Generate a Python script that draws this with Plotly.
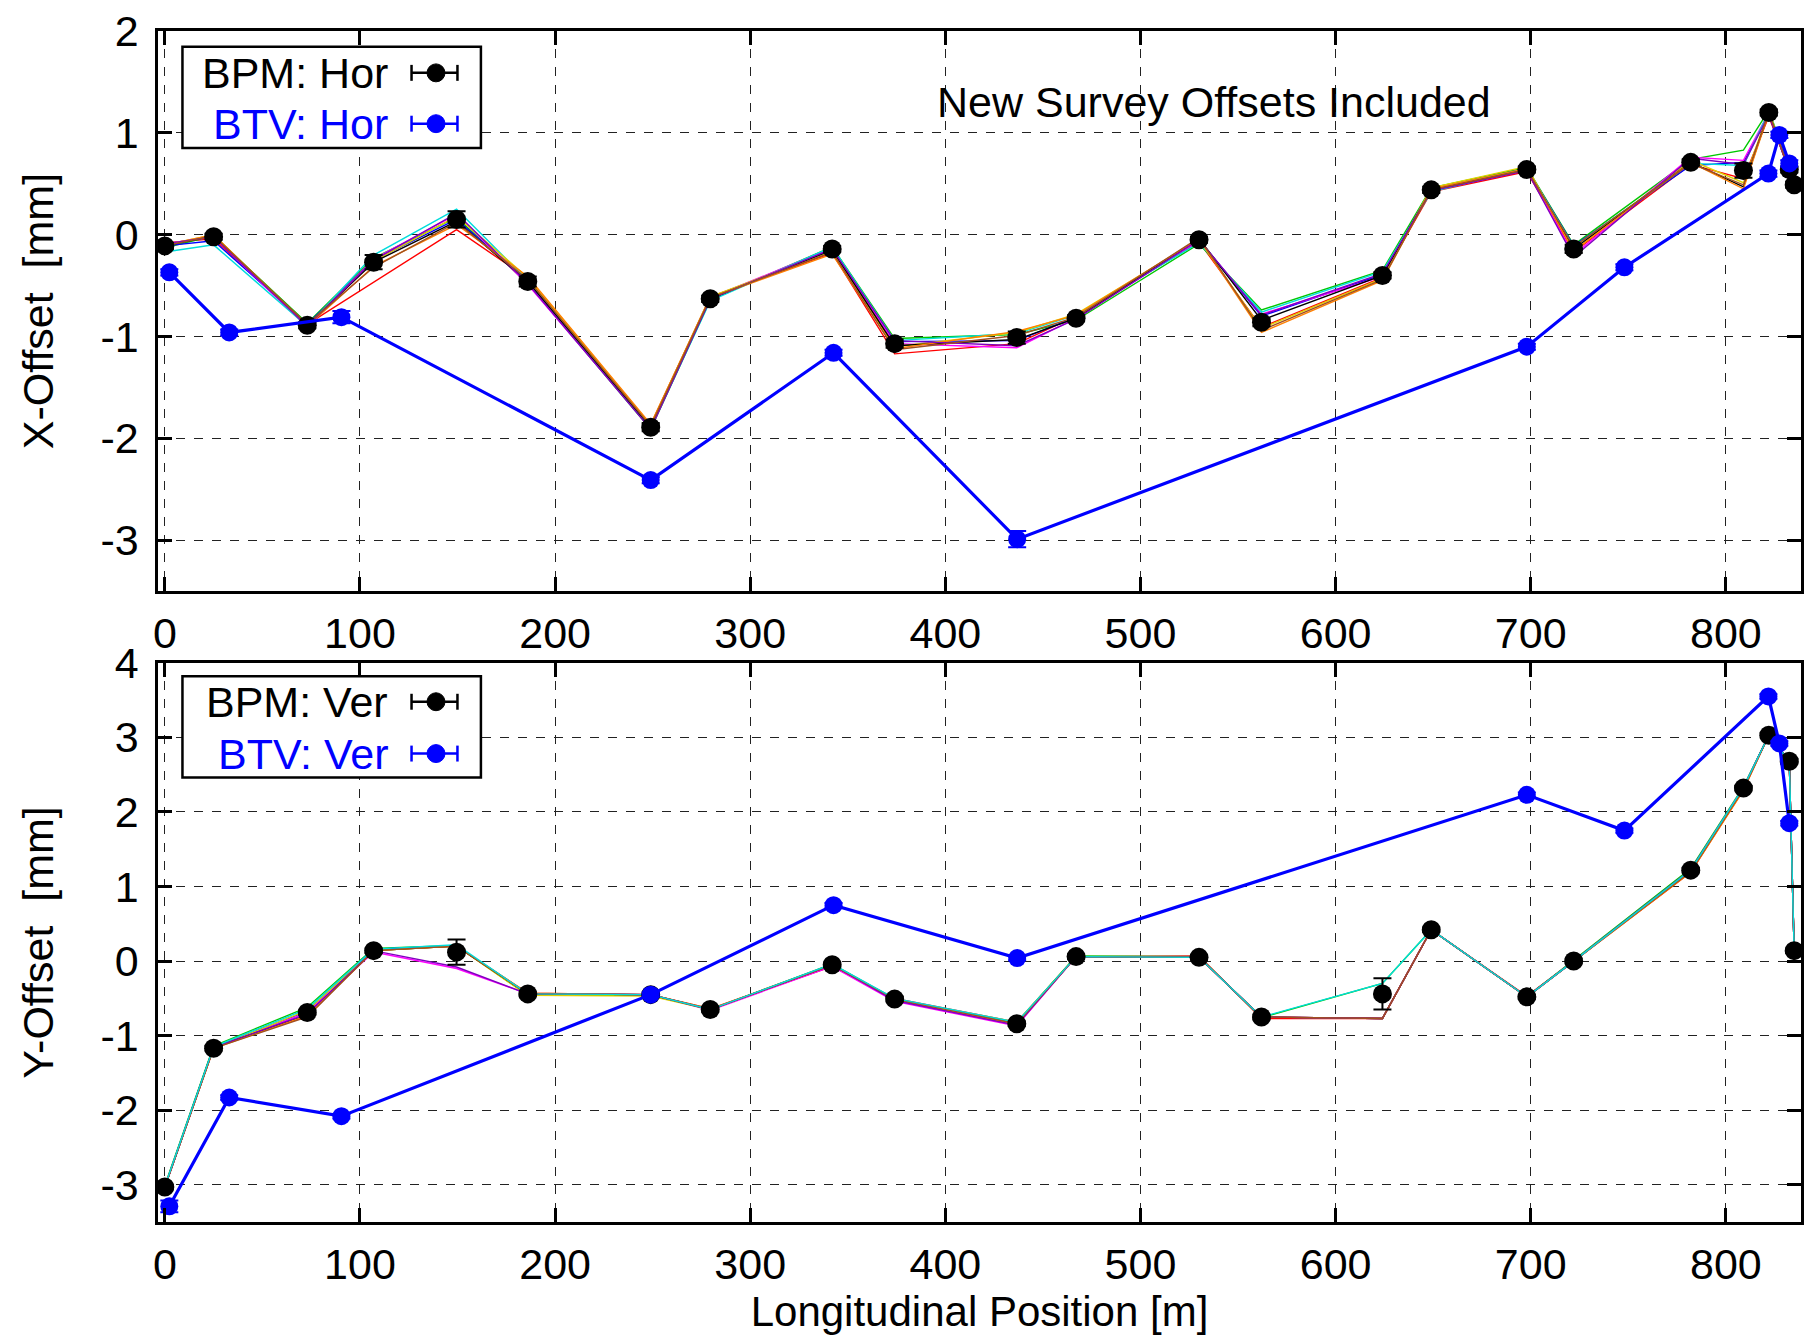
import plotly.graph_objects as go

# ---------------- data ----------------
bpm_pos = [0, 25, 73, 107, 149.5, 186, 249, 279.5, 342, 374, 436.6, 467, 530,
           562, 624, 649, 698, 722, 782, 809, 822, 832.5, 835]
bpm_hor = [-0.11, -0.02, -0.89, -0.27, 0.15, -0.46, -1.89, -0.63, -0.14, -1.07,
           -1.01, -0.82, -0.05, -0.86, -0.40, 0.44, 0.64, -0.14, 0.71, 0.63,
           1.20, 0.64, 0.49]
bpm_hor_err = [0.03, 0.03, 0.03, 0.07, 0.08, 0.05, 0.04, 0.03, 0.03, 0.04, 0.06,
               0.03, 0.03, 0.04, 0.03, 0.03, 0.03, 0.04, 0.03, 0.07, 0.03, 0.03, 0.03]
bpm_ver = [-3.03, -1.17, -0.69, 0.14, 0.12, -0.44, -0.45, -0.65, -0.05, -0.51,
           -0.84, 0.06, 0.05, -0.75, -0.44, 0.42, -0.48, 0.00, 1.22, 2.32,
           3.03, 2.68, 0.14]
bpm_ver_err = [0.03, 0.03, 0.03, 0.03, 0.17, 0.03, 0.03, 0.03, 0.03, 0.03, 0.03,
               0.03, 0.03, 0.03, 0.21, 0.03, 0.03, 0.03, 0.03, 0.03, 0.03, 0.03, 0.03]

btv_pos = [2.3, 33, 90.5, 249, 342.7, 436.8, 698, 748, 821.8, 827.4, 832.5]
btv_hor = [-0.37, -0.96, -0.81, -2.41, -1.16, -2.99, -1.10, -0.32, 0.60, 0.98, 0.70]
btv_hor_err = [0.03, 0.03, 0.06, 0.03, 0.03, 0.08, 0.03, 0.03, 0.03, 0.03, 0.03]
btv_ver = [-3.29, -1.83, -2.08, -0.45, 0.75, 0.04, 2.23, 1.75, 3.55, 2.92, 1.85]
btv_ver_err = [0.08, 0.03, 0.03, 0.03, 0.03, 0.03, 0.03, 0.03, 0.03, 0.03, 0.03]

# individual BPM measurements (thin coloured lines), as offsets from the mean
thin_colors = ["#ff0000", "#00c800", "#0000ff", "#ff00ff", "#00dcdc",
               "#e0d000", "#000000", "#ff8000", "#8000c0", "#a05020"]
hor_dev_red     = [0.03, -0.02, 0.01, -0.20, -0.10, 0.03, 0.02, 0.02, -0.04, -0.10, -0.06, 0.02, -0.02, -0.05, -0.02, -0.02, -0.02, -0.03, -0.02, -0.08, -0.04, 0.00, 0.00]
hor_dev_green   = [-0.02, 0.01, 0.02, 0.04, 0.02, -0.02, -0.02, -0.01, 0.02, 0.05, 0.03, -0.02, -0.04, 0.12, 0.05, 0.02, 0.02, 0.04, 0.03, 0.20, 0.02, 0.03, 0.00]
hor_dev_blue    = [0.00, -0.04, 0.01, 0.02, 0.00, 0.00, 0.01, 0.00, 0.00, 0.02, -0.03, 0.01, 0.00, 0.06, 0.01, 0.00, 0.01, 0.03, -0.03, 0.08, -0.02, -0.02, 0.00]
hor_dev_magenta = [0.02, 0.00, -0.02, 0.03, 0.05, -0.03, -0.01, 0.01, 0.01, 0.00, -0.10, 0.00, -0.01, 0.08, -0.01, 0.01, 0.00, -0.06, 0.05, 0.10, 0.00, 0.00, 0.00]
hor_dev_cyan    = [-0.06, -0.08, -0.01, 0.07, 0.10, 0.01, -0.01, -0.02, 0.02, 0.03, 0.04, 0.03, -0.03, 0.10, 0.04, -0.02, 0.01, 0.02, -0.01, 0.05, 0.01, 0.01, 0.00]
hor_dev_yellow  = [0.01, 0.02, 0.00, 0.01, 0.03, 0.04, 0.02, 0.02, -0.02, -0.03, 0.05, 0.04, 0.00, -0.06, -0.03, 0.02, 0.03, -0.02, 0.02, -0.12, 0.01, 0.02, 0.00]
hor_dev_black   = [0.00, 0.01, 0.00, 0.00, -0.02, 0.00, 0.00, 0.00, -0.01, -0.02, -0.02, 0.00, 0.01, 0.02, 0.00, 0.00, 0.00, 0.00, 0.00, -0.16, 0.00, 0.00, 0.00]
hor_dev_orange  = [0.01, 0.02, -0.01, -0.04, -0.05, 0.05, 0.03, 0.01, -0.05, -0.05, 0.06, 0.03, 0.01, -0.10, -0.05, 0.01, 0.01, -0.02, 0.00, -0.18, -0.01, 0.00, 0.00]
hor_dev_purple  = [0.02, 0.00, -0.01, 0.02, 0.06, -0.02, -0.02, 0.00, 0.00, 0.03, -0.08, -0.01, 0.00, 0.07, 0.02, -0.01, -0.01, -0.08, 0.04, 0.06, -0.02, -0.01, 0.00]
hor_dev_brown   = [0.00, 0.01, 0.01, -0.05, -0.03, 0.02, 0.01, 0.01, -0.03, -0.06, 0.02, 0.01, 0.02, -0.08, -0.04, 0.00, 0.00, 0.02, -0.01, -0.14, 0.00, 0.00, 0.00]

ver_dev_red     = [0.00, 0.02, -0.05, 0.01, 0.08, 0.01, 0.00, 0.01, -0.02, 0.01, 0.02, 0.00, 0.02, -0.02, -0.33, 0.00, 0.01, 0.00, -0.03, -0.02, 0.00, 0.00, 0.00]
ver_dev_green   = [0.02, 0.03, 0.07, 0.03, 0.09, -0.02, -0.01, 0.00, 0.01, 0.00, 0.01, 0.01, 0.01, -0.01, 0.14, 0.00, 0.00, 0.01, 0.02, 0.02, 0.00, 0.00, 0.00]
ver_dev_blue    = [0.00, 0.01, 0.02, 0.02, 0.08, 0.00, 0.00, 0.00, 0.00, -0.01, -0.01, 0.00, 0.00, 0.00, -0.33, 0.00, 0.00, 0.00, 0.00, 0.00, 0.00, 0.00, 0.00]
ver_dev_magenta = [0.00, 0.00, 0.00, -0.02, -0.22, 0.00, 0.00, -0.01, -0.02, -0.03, -0.03, 0.00, 0.00, 0.00, -0.33, 0.00, 0.00, 0.00, 0.00, 0.01, 0.00, 0.00, 0.00]
ver_dev_cyan    = [0.01, 0.02, 0.05, 0.02, 0.10, 0.00, 0.00, 0.00, 0.01, 0.01, 0.02, 0.00, 0.00, 0.00, 0.14, 0.00, 0.00, 0.00, 0.00, 0.01, 0.00, 0.00, 0.00]
ver_dev_yellow  = [0.00, 0.00, 0.03, 0.00, 0.08, -0.02, -0.02, 0.00, 0.00, 0.00, 0.02, 0.00, 0.00, 0.00, -0.33, 0.00, 0.00, 0.00, 0.00, 0.00, 0.00, 0.00, 0.00]
ver_dev_black   = [0.00, 0.01, -0.03, 0.00, 0.08, 0.00, 0.00, 0.00, 0.00, 0.00, 0.00, 0.00, 0.00, 0.00, -0.33, 0.00, 0.00, 0.00, 0.00, 0.00, 0.00, 0.00, 0.00]
ver_dev_orange  = [0.00, 0.00, -0.04, 0.00, 0.08, 0.01, 0.00, 0.01, 0.00, 0.00, -0.01, 0.00, 0.00, 0.00, -0.33, 0.00, 0.00, 0.00, -0.03, -0.03, 0.00, 0.00, 0.00]
ver_dev_purple  = [0.00, 0.01, -0.02, 0.00, -0.20, 0.00, 0.00, 0.00, 0.00, -0.02, -0.02, 0.00, 0.00, 0.00, -0.33, 0.00, 0.00, 0.00, 0.00, 0.00, 0.00, 0.00, 0.00]
ver_dev_brown   = [0.00, 0.00, -0.06, 0.00, 0.08, 0.00, 0.00, 0.00, 0.00, 0.00, 0.00, 0.00, 0.00, 0.00, -0.33, 0.00, 0.00, 0.00, -0.02, -0.01, 0.00, 0.00, 0.00]

hor_devs = [hor_dev_red, hor_dev_green, hor_dev_blue, hor_dev_magenta, hor_dev_cyan,
            hor_dev_yellow, hor_dev_black, hor_dev_orange, hor_dev_purple, hor_dev_brown]
ver_devs = [ver_dev_red, ver_dev_green, ver_dev_blue, ver_dev_magenta, ver_dev_yellow,
            ver_dev_black, ver_dev_orange, ver_dev_purple, ver_dev_brown, ver_dev_cyan]
ver_colors = ["#ff0000", "#00c800", "#0000ff", "#ff00ff", "#e0d000",
              "#000000", "#ff8000", "#8000c0", "#a05020", "#00dcdc"]

x_ticks = [0, 100, 200, 300, 400, 500, 600, 700, 800]
x_tick_text = ["0", "100", "200", "300", "400", "500", "600", "700", "800"]
yh_ticks = [2, 1, 0, -1, -2, -3]
yh_tick_text = ["2", "1", "0", "-1", "-2", "-3"]
yv_ticks = [4, 3, 2, 1, 0, -1, -2, -3]
yv_tick_text = ["4", "3", "2", "1", "0", "-1", "-2", "-3"]

# ---------------- figure ----------------
W, H = 1811, 1336
PL, PR, PT, PB = 158, 1804, 27, 1222
FONT = "Liberation Sans, Arial, sans-serif"
FS = 43
BLUE = "#0000ff"


def px(x):
    return (x - PL) / (PR - PL)


def py(y):
    return (PB - y) / (PB - PT)


fig = go.Figure()

for devs, cols, yref_ax, mean in [(hor_devs, thin_colors, "y", bpm_hor),
                                  (ver_devs, ver_colors, "y2", bpm_ver)]:
    for dev, col in zip(devs, cols):
        fig.add_trace(go.Scatter(
            x=bpm_pos, y=[m + d for m, d in zip(mean, dev)],
            mode="lines", line=dict(color=col, width=1.4),
            xaxis="x" if yref_ax == "y" else "x2", yaxis=yref_ax,
            showlegend=False, hoverinfo="skip"))

err_style = dict(type="data", thickness=2, width=9)

fig.add_trace(go.Scatter(
    x=bpm_pos, y=bpm_hor, mode="markers",
    marker=dict(color="black", size=19),
    error_y=dict(array=bpm_hor_err, color="black", **err_style),
    xaxis="x", yaxis="y", showlegend=False))
fig.add_trace(go.Scatter(
    x=btv_pos, y=btv_hor, mode="lines+markers",
    line=dict(color=BLUE, width=3.2), marker=dict(color=BLUE, size=18),
    error_y=dict(array=btv_hor_err, color=BLUE, **err_style),
    xaxis="x", yaxis="y", showlegend=False))
fig.add_trace(go.Scatter(
    x=bpm_pos, y=bpm_ver, mode="markers",
    marker=dict(color="black", size=19),
    error_y=dict(array=bpm_ver_err, color="black", **err_style),
    xaxis="x2", yaxis="y2", showlegend=False))
fig.add_trace(go.Scatter(
    x=btv_pos, y=btv_ver, mode="lines+markers",
    line=dict(color=BLUE, width=3.2), marker=dict(color=BLUE, size=18),
    error_y=dict(array=btv_ver_err, color=BLUE, **err_style),
    xaxis="x2", yaxis="y2", showlegend=False))

tickfont = dict(family=FONT, size=FS, color="black")
xcommon = dict(range=[-3.5, 838.5], tickvals=x_ticks, ticktext=x_tick_text,
               ticks="inside", ticklen=14,
               tickwidth=2.5, tickcolor="black", showline=True, linecolor="black",
               linewidth=2.5, mirror="ticks", showgrid=True, gridcolor="#222",
               griddash="dash", gridwidth=1, zeroline=False, tickfont=tickfont,
               ticklabelstandoff=3)
ycommon = dict(ticks="inside", ticklen=14, tickwidth=2.5, tickcolor="black",
               showline=True, linecolor="black", linewidth=2.5, mirror="ticks",
               showgrid=True, gridcolor="#222", griddash="dash", gridwidth=1,
               zeroline=False, tickfont=tickfont, ticklabelstandoff=8)

top_dom = [py(589), 1.0]
bot_dom = [0.0, py(661)]

fig.update_layout(
    width=W, height=H,
    margin=dict(l=PL, r=W - PR, t=PT, b=H - PB),
    paper_bgcolor="white", plot_bgcolor="white",
    font=dict(family=FONT, color="black"),
    xaxis=dict(anchor="y", domain=[0, 1], **xcommon),
    yaxis=dict(anchor="x", domain=top_dom, range=[-3.5, 2], tickvals=yh_ticks,
               ticktext=yh_tick_text,
               title=dict(text="X-Offset  [mm]", font=dict(family=FONT, size=FS),
                          standoff=34), **ycommon),
    xaxis2=dict(anchor="y2", domain=[0, 1],
                title=dict(text="Longitudinal Position [m]",
                           font=dict(family=FONT, size=42), standoff=10),
                **xcommon),
    yaxis2=dict(anchor="x2", domain=bot_dom, range=[-3.5, 4], tickvals=yv_ticks,
                ticktext=yv_tick_text,
                title=dict(text="Y-Offset  [mm]", font=dict(family=FONT, size=FS),
                           standoff=34), **ycommon),
    showlegend=False,
)

annotations = [dict(text="New Survey Offsets Included", x=px(1216), y=py(98),
                    xref="paper", yref="paper", showarrow=False,
                    xanchor="center", yanchor="middle",
                    font=dict(family=FONT, size=FS, color="black"))]
shapes = []

legend_boxes = [
    (42.7, 144.3, [("BPM: Hor", "black", 69), ("BTV: Hor", BLUE, 120)]),
    (674.5, 776, [("BPM: Ver", "black", 700), ("BTV: Ver", BLUE, 752)]),
]
for top, bot, rows in legend_boxes:
    shapes.append(dict(type="rect", xref="paper", yref="paper",
                       x0=px(182.5), x1=px(481.5), y0=py(bot), y1=py(top),
                       line=dict(color="black", width=2.5), fillcolor="white",
                       layer="above"))
    for label, col, yc in rows:
        annotations.append(dict(text=label, x=px(390), y=py(yc), xref="paper",
                                yref="paper", showarrow=False, xanchor="right",
                                yanchor="middle",
                                font=dict(family=FONT, size=FS, color=col)))
        shapes.append(dict(type="line", xref="paper", yref="paper",
                           x0=px(412), x1=px(458), y0=py(yc), y1=py(yc),
                           line=dict(color=col, width=2.5), layer="above"))
        for xe in (412, 458):
            shapes.append(dict(type="line", xref="paper", yref="paper",
                               x0=px(xe), x1=px(xe), y0=py(yc - 8), y1=py(yc + 8),
                               line=dict(color=col, width=2.5), layer="above"))
        shapes.append(dict(type="circle", xref="paper", yref="paper",
                           x0=px(427.5), x1=px(445.5), y0=py(yc + 9), y1=py(yc - 9),
                           line=dict(color=col, width=1), fillcolor=col,
                           layer="above"))

fig.update_layout(annotations=annotations, shapes=shapes)

fig.write_html("out.html")
